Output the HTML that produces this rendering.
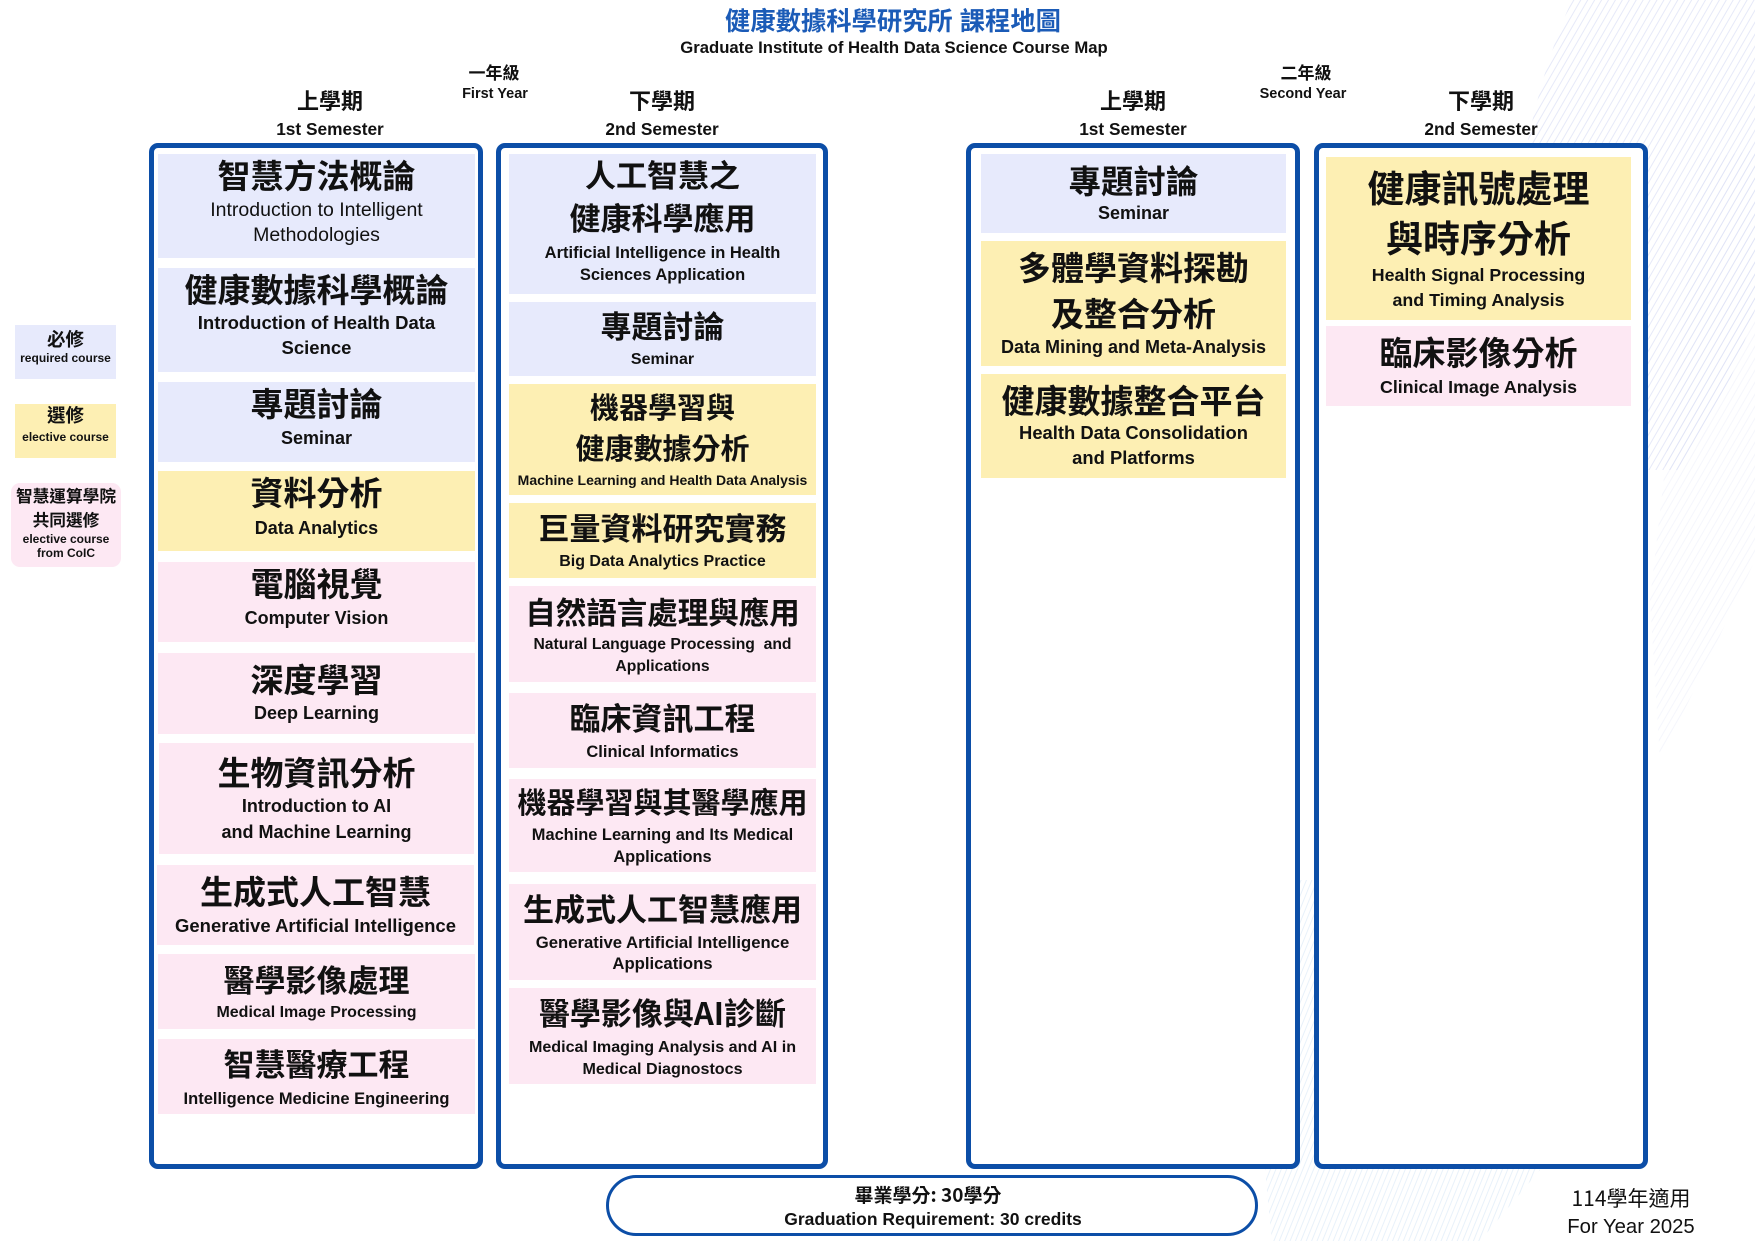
<!DOCTYPE html>
<html><head><meta charset="utf-8">
<style>
*{margin:0;padding:0;box-sizing:border-box}
html,body{width:1755px;height:1241px;overflow:hidden;background:#fff}
body{position:relative;font-family:"Liberation Sans","Noto Sans CJK TC",sans-serif;color:#111}
.a{position:absolute;white-space:nowrap;text-align:center;font-weight:bold}
.box{position:absolute;top:143px;height:1026px;border:5px solid #0c4ea7;border-radius:9px;background:#fff;z-index:2}
.card{position:absolute;z-index:3}
.b{background:#e7eafc}.y{background:#fdefb3}.p{background:#fde8f3}
.l{position:absolute;left:0;right:0;height:40px;line-height:40px;text-align:center;white-space:nowrap;font-weight:bold}
.c{font-family:"Noto Sans CJK TC","Liberation Sans",sans-serif}
.r{font-weight:normal}
svg.bg{position:absolute;left:0;top:0;z-index:0}
</style></head><body>

<svg class="bg" width="1755" height="1241" viewBox="0 0 1755 1241">
<defs>
<pattern id="h" width="6" height="6" patternUnits="userSpaceOnUse" patternTransform="rotate(30)">
<line x1="1" y1="0" x2="1" y2="6" stroke="#c4ccf0" stroke-width="0.7"/>
</pattern>
<pattern id="h2" width="5" height="5" patternUnits="userSpaceOnUse" patternTransform="rotate(22)">
<line x1="1" y1="0" x2="1" y2="5" stroke="#c0d8f0" stroke-width="0.6"/>
</pattern>
</defs>
<path d="M1572 0 L1755 0 L1755 310 Q1720 420 1680 470 L1620 470 Q1560 300 1528 140 Q1545 60 1572 0 Z" fill="url(#h)" opacity="0.6"/>
<path d="M1700 160 L1755 150 L1755 560 Q1700 680 1660 760 L1650 600 Z" fill="url(#h)" opacity="0.25"/>
<path d="M1290 880 L1330 880 Q1440 1050 1540 1170 L1480 1241 L1272 1241 Q1262 1150 1262 1100 Z" fill="url(#h2)" opacity="0.6"/>
</svg>

<!-- Title -->
<div class="a" style="left:593px;width:600px;top:5px;height:34px;line-height:34px;font-size:25.3px;color:#1b5bb7">健康數據科學研究所 課程地圖</div>
<div class="a" style="left:594px;width:600px;top:37px;height:22px;line-height:22px;font-size:16.7px">Graduate Institute of Health Data Science Course Map</div>

<!-- Year labels -->
<div class="a c" style="left:394px;width:200px;top:60px;height:24px;line-height:24px;font-size:17px">一年級</div>
<div class="a" style="left:395px;width:200px;top:84px;height:20px;line-height:20px;font-size:14.5px">First Year</div>
<div class="a c" style="left:1206px;width:200px;top:60px;height:24px;line-height:24px;font-size:17px">二年級</div>
<div class="a" style="left:1203px;width:200px;top:84px;height:20px;line-height:20px;font-size:14.5px">Second Year</div>

<!-- Semester labels -->
<div class="a c" style="left:230px;width:200px;top:85px;height:30px;line-height:30px;font-size:22px">上學期</div>
<div class="a" style="left:230px;width:200px;top:118px;height:22px;line-height:22px;font-size:17.3px">1st Semester</div>
<div class="a c" style="left:562px;width:200px;top:85px;height:30px;line-height:30px;font-size:22px">下學期</div>
<div class="a" style="left:562px;width:200px;top:118px;height:22px;line-height:22px;font-size:17.3px">2nd Semester</div>
<div class="a c" style="left:1033px;width:200px;top:85px;height:30px;line-height:30px;font-size:22px">上學期</div>
<div class="a" style="left:1033px;width:200px;top:118px;height:22px;line-height:22px;font-size:17.3px">1st Semester</div>
<div class="a c" style="left:1381px;width:200px;top:85px;height:30px;line-height:30px;font-size:22px">下學期</div>
<div class="a" style="left:1381px;width:200px;top:118px;height:22px;line-height:22px;font-size:17.3px">2nd Semester</div>

<!-- Legend -->
<div class="card b" style="left:15px;top:325px;width:101px;height:54px">
 <div class="l c" style="top:-6px;font-size:18.5px">必修</div>
 <div class="l" style="top:13px;font-size:12px">required course</div>
</div>
<div class="card y" style="left:15px;top:404px;width:101px;height:54px">
 <div class="l c" style="top:-9px;font-size:18.5px">選修</div>
 <div class="l" style="top:13px;font-size:12px">elective course</div>
</div>
<div class="card p" style="left:11px;top:483px;width:110px;height:84px;border-radius:9px">
 <div class="l c" style="top:-8px;font-size:16.7px">智慧運算學院</div>
 <div class="l c" style="top:16px;font-size:16.7px">共同選修</div>
 <div class="l" style="top:36px;font-size:12px">elective course</div>
 <div class="l" style="top:50px;font-size:12px">from CoIC</div>
</div>

<!-- Column boxes -->
<div class="box" style="left:149px;width:334px"></div>
<div class="box" style="left:496px;width:332px"></div>
<div class="box" style="left:966px;width:334px"></div>
<div class="box" style="left:1314px;width:334px"></div>

<!-- Column 1 -->
<div class="card b" style="left:158px;top:154px;width:317px;height:104px">
 <div class="l c" style="top:0px;font-size:33px">智慧方法概論</div>
 <div class="l r" style="top:36px;font-size:19.5px">Introduction to Intelligent</div>
 <div class="l r" style="top:61px;font-size:19.5px">Methodologies</div>
</div>
<div class="card b" style="left:158px;top:268px;width:317px;height:104px">
 <div class="l c" style="top:0px;font-size:33px">健康數據科學概論</div>
 <div class="l" style="top:35px;font-size:18.5px">Introduction of Health Data</div>
 <div class="l" style="top:60px;font-size:18.5px">Science</div>
</div>
<div class="card b" style="left:158px;top:382px;width:317px;height:80px">
 <div class="l c" style="top:0px;font-size:33px">專題討論</div>
 <div class="l" style="top:36px;font-size:18px">Seminar</div>
</div>
<div class="card y" style="left:158px;top:471px;width:317px;height:80px">
 <div class="l c" style="top:0px;font-size:33px">資料分析</div>
 <div class="l" style="top:37px;font-size:18px">Data Analytics</div>
</div>
<div class="card p" style="left:158px;top:562px;width:317px;height:80px">
 <div class="l c" style="top:0px;font-size:33px">電腦視覺</div>
 <div class="l" style="top:36px;font-size:18px">Computer Vision</div>
</div>
<div class="card p" style="left:158px;top:653px;width:317px;height:81px">
 <div class="l c" style="top:5px;font-size:33px">深度學習</div>
 <div class="l" style="top:39.5px;font-size:18px">Deep Learning</div>
</div>
<div class="card p" style="left:159px;top:743px;width:315px;height:111px">
 <div class="l c" style="top:7.5px;font-size:33px">生物資訊分析</div>
 <div class="l" style="top:43px;font-size:18px">Introduction to AI</div>
 <div class="l" style="top:69px;font-size:18px">and Machine Learning</div>
</div>
<div class="card p" style="left:157px;top:865px;width:317px;height:80px">
 <div class="l c" style="top:5px;font-size:33px">生成式人工智慧</div>
 <div class="l" style="top:40.5px;font-size:18.5px">Generative Artificial Intelligence</div>
</div>
<div class="card p" style="left:158px;top:954px;width:317px;height:75px">
 <div class="l c" style="top:4.5px;font-size:31px">醫學影像處理</div>
 <div class="l" style="top:39px;font-size:16px">Medical Image Processing</div>
</div>
<div class="card p" style="left:158px;top:1039px;width:317px;height:75px">
 <div class="l c" style="top:4px;font-size:31px">智慧醫療工程</div>
 <div class="l" style="top:40px;font-size:16.5px">Intelligence Medicine Engineering</div>
</div>

<!-- Column 2 -->
<div class="card b" style="left:509px;top:154px;width:307px;height:140px">
 <div class="l c" style="top:0px;font-size:31px">人工智慧之</div>
 <div class="l c" style="top:43px;font-size:31px">健康科學應用</div>
 <div class="l" style="top:79px;font-size:16.5px">Artificial Intelligence in Health</div>
 <div class="l" style="top:101px;font-size:16.5px">Sciences Application</div>
</div>
<div class="card b" style="left:509px;top:302px;width:307px;height:74px">
 <div class="l c" style="top:3px;font-size:31px">專題討論</div>
 <div class="l" style="top:38px;font-size:16px">Seminar</div>
</div>
<div class="card y" style="left:509px;top:384px;width:307px;height:111px">
 <div class="l c" style="top:2px;font-size:29px">機器學習與</div>
 <div class="l c" style="top:43px;font-size:29px">健康數據分析</div>
 <div class="l" style="top:76px;font-size:14px">Machine Learning and Health Data Analysis</div>
</div>
<div class="card y" style="left:509px;top:503px;width:307px;height:75px">
 <div class="l c" style="top:4px;font-size:31px">巨量資料研究實務</div>
 <div class="l" style="top:39px;font-size:16px">Big Data Analytics Practice</div>
</div>
<div class="card p" style="left:509px;top:586px;width:307px;height:96px">
 <div class="l c" style="top:4.5px;font-size:30.5px">自然語言處理與應用</div>
 <div class="l" style="top:39px;font-size:15.7px">Natural Language Processing&nbsp; and</div>
 <div class="l" style="top:61px;font-size:15.7px">Applications</div>
</div>
<div class="card p" style="left:509px;top:693px;width:307px;height:75px">
 <div class="l c" style="top:4px;font-size:31px">臨床資訊工程</div>
 <div class="l" style="top:39px;font-size:16.5px">Clinical Informatics</div>
</div>
<div class="card p" style="left:509px;top:779px;width:307px;height:93px">
 <div class="l c" style="top:2px;font-size:29px">機器學習與其醫學應用</div>
 <div class="l" style="top:36px;font-size:16.4px">Machine Learning and Its Medical</div>
 <div class="l" style="top:58px;font-size:16.4px">Applications</div>
</div>
<div class="card p" style="left:509px;top:884px;width:307px;height:96px">
 <div class="l c" style="top:3.5px;font-size:31px">生成式人工智慧應用</div>
 <div class="l" style="top:39.4px;font-size:16.7px">Generative Artificial Intelligence</div>
 <div class="l" style="top:60.4px;font-size:16.7px">Applications</div>
</div>
<div class="card p" style="left:509px;top:988px;width:307px;height:96px">
 <div class="l c" style="top:4px;font-size:31px">醫學影像與AI診斷</div>
 <div class="l" style="top:39px;font-size:16.1px">Medical Imaging Analysis and AI in</div>
 <div class="l" style="top:61px;font-size:16.1px">Medical Diagnostocs</div>
</div>

<!-- Column 3 -->
<div class="card b" style="left:981px;top:154px;width:305px;height:79px">
 <div class="l c" style="top:6px;font-size:32.5px">專題討論</div>
 <div class="l" style="top:39px;font-size:18px">Seminar</div>
</div>
<div class="card y" style="left:981px;top:241px;width:305px;height:125px">
 <div class="l c" style="top:5px;font-size:33px">多體學資料探勘</div>
 <div class="l c" style="top:51px;font-size:33px">及整合分析</div>
 <div class="l" style="top:86px;font-size:18px">Data Mining and Meta-Analysis</div>
</div>
<div class="card y" style="left:981px;top:374px;width:305px;height:104px">
 <div class="l c" style="top:5px;font-size:33px">健康數據整合平台</div>
 <div class="l" style="top:39px;font-size:18.4px">Health Data Consolidation</div>
 <div class="l" style="top:64px;font-size:18.4px">and Platforms</div>
</div>

<!-- Column 4 -->
<div class="card y" style="left:1326px;top:157px;width:305px;height:163px">
 <div class="l c" style="top:8.5px;font-size:37px">健康訊號處理</div>
 <div class="l c" style="top:58.5px;font-size:37px">與時序分析</div>
 <div class="l" style="top:98px;font-size:17.8px">Health Signal Processing</div>
 <div class="l" style="top:123px;font-size:17.8px">and Timing Analysis</div>
</div>
<div class="card p" style="left:1326px;top:326px;width:305px;height:80px">
 <div class="l c" style="top:5px;font-size:33px">臨床影像分析</div>
 <div class="l" style="top:41px;font-size:17.8px">Clinical Image Analysis</div>
</div>

<!-- Graduation pill -->
<div style="position:absolute;left:606px;top:1175px;width:652px;height:61px;border:3px solid #0c4ea7;border-radius:31px;background:#fff;z-index:2"></div>
<div class="a c" style="left:728px;width:400px;top:1181px;height:28px;line-height:28px;font-size:19px;z-index:3">畢業學分: 30學分</div>
<div class="a" style="left:733px;width:400px;top:1208px;height:22px;line-height:22px;font-size:17.5px;z-index:3">Graduation Requirement: 30 credits</div>

<!-- Year note -->
<div class="a c" style="left:1531px;width:200px;top:1184px;height:28px;line-height:28px;font-size:21px;font-weight:normal">114學年適用</div>
<div class="a" style="left:1531px;width:200px;top:1213px;height:28px;line-height:28px;font-size:20.3px;font-weight:normal">For Year 2025</div>

</body></html>
